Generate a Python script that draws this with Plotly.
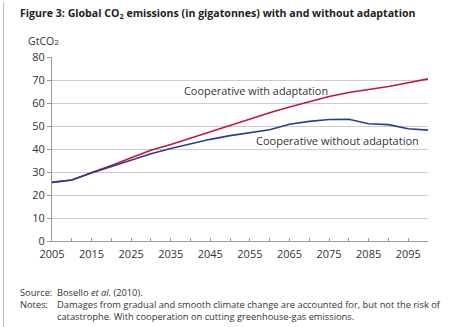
import plotly.graph_objects as go

# Years and emissions (GtCO2) for the two cooperative scenarios
years = [2005, 2010, 2015, 2020, 2025, 2030, 2035, 2040, 2045, 2050,
         2055, 2060, 2065, 2070, 2075, 2080, 2085, 2090, 2095, 2100]
with_adaptation = [25.5, 26.5, 29.8, 32.8, 36.2, 39.5, 42.0, 44.8, 47.5, 50.2,
                   53.0, 55.8, 58.3, 60.5, 62.8, 64.6, 65.8, 67.2, 68.8, 70.5]
without_adaptation = [25.5, 26.5, 29.6, 32.4, 35.2, 37.9, 40.2, 42.3, 44.2, 45.8,
                      47.0, 48.4, 50.8, 52.0, 52.8, 52.9, 51.0, 50.6, 48.8, 48.2]
x_tick_labels = [2005, 2015, 2025, 2035, 2045, 2055, 2065, 2075, 2085, 2095]
y_ticks = [0, 10, 20, 30, 40, 50, 60, 70, 80]

FONT = "Open Sans"
TEXT = "#333333"
W, H = 461, 327
L, R, T, B = 52, 33, 57, 86
PW, PH = W - L - R, H - T - B


def px(xp):
    return (xp - L) / PW


def py(yp):
    return (H - B - yp) / PH


fig = go.Figure()
fig.add_trace(go.Scatter(x=years, y=with_adaptation, mode="lines",
                         line=dict(color="#c6163b", width=1.6),
                         name="Cooperative with adaptation"))
fig.add_trace(go.Scatter(x=years, y=without_adaptation, mode="lines",
                         line=dict(color="#2a3d8f", width=1.6),
                         name="Cooperative without adaptation"))

ann = []
# thin rule down the left edge of the figure panel
ann.append(dict(xref="paper", yref="paper", x=px(3), y=py(2), xanchor="left",
                yanchor="top", showarrow=False, text=" ", width=1, height=H - 2,
                bgcolor="#bdbdbd", borderpad=0, borderwidth=0,
                font=dict(size=1)))
ann.append(dict(xref="paper", yref="paper", x=px(18), y=py(13), xanchor="left",
                yanchor="middle", showarrow=False,
                text="<b>Figure 3: Global CO<sub>2</sub> emissions (in gigatonnes) with and without adaptation</b>",
                font=dict(family=FONT, size=10.6, color="#222222")))
ann.append(dict(xref="paper", yref="paper", x=px(43), y=py(50), xanchor="center",
                yanchor="bottom", showarrow=False,
                text="GtCO<span style='font-size:8px'>2</span>",
                font=dict(family=FONT, size=10.5, color=TEXT)))
ann.append(dict(xref="x", yref="y", x=2056.5, y=65.6,
                xanchor="center", yanchor="middle", showarrow=False,
                text="Cooperative with adaptation",
                font=dict(family=FONT, size=10.9, color=TEXT)))
ann.append(dict(xref="x", yref="y", x=2077.2, y=43.7,
                xanchor="center", yanchor="middle", showarrow=False,
                text="Cooperative without adaptation",
                font=dict(family=FONT, size=11, color=TEXT)))
note_font = dict(family=FONT, size=9.3, color=TEXT)
ann.append(dict(xref="paper", yref="paper", x=px(18), y=py(292), xanchor="left",
                yanchor="middle", showarrow=False, text="Source:", font=note_font))
ann.append(dict(xref="paper", yref="paper", x=px(55), y=py(292), xanchor="left",
                yanchor="middle", showarrow=False,
                text="Bosello <i>et al.</i> (2010).", font=note_font))
ann.append(dict(xref="paper", yref="paper", x=px(18), y=py(304), xanchor="left",
                yanchor="middle", showarrow=False, text="Notes:", font=note_font))
ann.append(dict(xref="paper", yref="paper", x=px(55), y=py(296), xanchor="left",
                yanchor="top", showarrow=False, align="left",
                text="Damages from gradual and smooth climate change are accounted for, but not the risk of"
                     "<br>catastrophe. With cooperation on cutting greenhouse-gas emissions.",
                font=note_font))

fig.update_layout(
    width=W, height=H,
    margin=dict(l=L, r=R, t=T, b=B),
    paper_bgcolor="white", plot_bgcolor="white",
    showlegend=False,
    annotations=ann,
    xaxis=dict(range=[2005, 2100], tickmode="array",
               tickvals=x_tick_labels, ticktext=[str(v) for v in x_tick_labels],
               showgrid=False, zeroline=False,
               showline=True, linecolor="#9a9a9a", linewidth=1,
               ticks="inside", ticklen=3, tickcolor="#9a9a9a",
               ticklabelstandoff=3,
               minor=dict(dtick=5, tick0=2005, ticks="inside", ticklen=3,
                          tickcolor="#9a9a9a", showgrid=False),
               tickfont=dict(family=FONT, size=11, color=TEXT)),
    yaxis=dict(range=[0, 80], tickmode="array", tickvals=y_ticks,
               showgrid=True, gridcolor="#cccccc", gridwidth=1,
               zeroline=False, showline=True, linecolor="#9a9a9a", linewidth=1,
               ticks="outside", ticklen=4, tickcolor="#9a9a9a",
               tickfont=dict(family=FONT, size=11, color=TEXT)),
)

fig.write_html("out.html")
